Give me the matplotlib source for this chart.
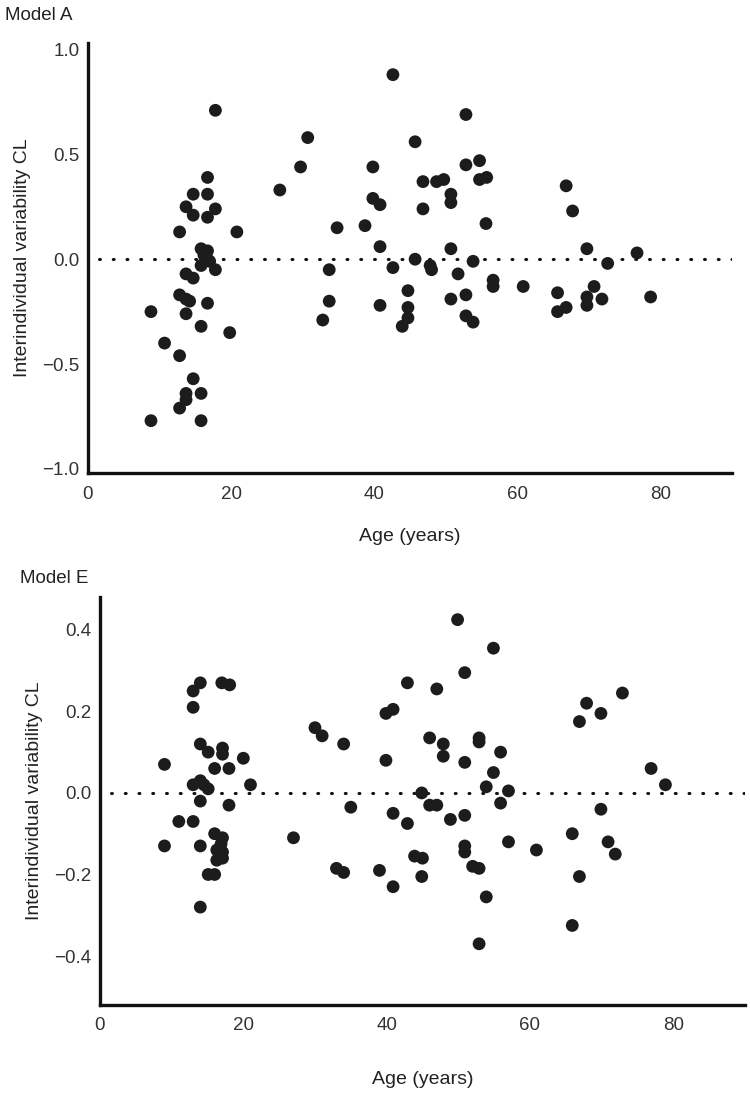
import numpy as np
import matplotlib.pyplot as plt

plt.rcParams['font.family'] = ['Liberation Sans', 'DejaVu Sans']

# Model A: age (years) and interindividual variability CL
age_a = [8.8, 8.8, 10.7, 12.8, 12.8, 12.8, 12.8, 13.7, 13.7, 13.7, 13.7, 13.7, 13.7,
         14.2, 14.7, 14.7, 14.7, 14.7, 15.8, 15.8, 15.8, 15.8, 15.8, 16.2, 16.7, 16.7,
         16.7, 16.7, 16.7, 16.7, 17.0, 17.8, 17.8, 17.8, 19.8, 20.8,
         26.8, 29.7, 30.7, 34.8, 33.7, 33.7, 32.8, 39.8, 39.8, 40.8, 38.7, 40.8, 40.8,
         42.6, 42.6, 44.7, 44.7, 44.7, 43.9, 45.7, 45.7, 46.8, 46.8, 47.8, 48.0, 48.7,
         49.7, 50.7, 50.7, 50.7, 51.7, 50.7, 52.8, 52.8, 52.8, 52.8, 53.8, 53.8, 54.7,
         54.7, 55.7, 55.6, 56.6, 56.6,
         60.8, 65.6, 65.6, 66.8, 66.8, 67.7, 69.7, 69.7, 69.7, 70.7, 71.8, 72.6, 76.7, 78.6]
cl_a = [-0.25, -0.77, -0.40, -0.46, 0.13, -0.71, -0.17, 0.25, -0.07, -0.19, -0.26, -0.64, -0.67,
        -0.20, 0.31, 0.21, -0.09, -0.57, 0.05, -0.03, -0.32, -0.64, -0.77, 0.02, 0.39, 0.31,
        0.20, 0.04, 0.00, -0.21, -0.01, 0.71, 0.24, -0.05, -0.35, 0.13,
        0.33, 0.44, 0.58, 0.15, -0.05, -0.20, -0.29, 0.44, 0.29, 0.26, 0.16, 0.06, -0.22,
        0.88, -0.04, -0.15, -0.23, -0.28, -0.32, 0.56, 0.00, 0.37, 0.24, -0.03, -0.05, 0.37,
        0.38, 0.31, 0.27, 0.05, -0.07, -0.19, 0.69, 0.45, -0.17, -0.27, -0.30, -0.01, 0.47,
        0.38, 0.39, 0.17, -0.10, -0.13,
        -0.13, -0.16, -0.25, -0.23, 0.35, 0.23, 0.05, -0.18, -0.22, -0.13, -0.19, -0.02, 0.03, -0.18]

# Model E
age_e = [9.0, 9.0, 11.0, 13.0, 13.0, 13.0, 14.0, 14.0, 15.1, 14.0, 14.0, 14.0, 13.0, 14.0,
         15.1, 14.5, 16.0, 17.1, 17.1, 18.0, 18.0, 17.0, 18.1, 20.0, 21.0, 15.1, 16.0, 16.0,
         17.1, 16.3, 17.1, 16.3, 17.1, 16.9,
         27.0, 30.0, 31.0, 34.0, 35.0, 33.0, 34.0, 39.0, 39.9, 39.9, 40.9, 40.9, 40.9, 42.9,
         42.9, 43.9, 45.0, 44.9, 44.9, 46.0, 46.0, 47.0, 47.0, 47.9, 47.9, 48.9, 49.9, 50.9,
         50.9, 50.9, 50.9, 50.9, 52.0, 52.9, 52.9, 52.9, 52.9, 53.9, 53.9, 54.9, 55.9, 54.9,
         57.0, 55.9, 57.0, 60.9, 65.9, 66.9, 65.9, 66.9, 67.9, 69.9, 69.9, 70.9, 71.9, 72.9,
         76.9, 78.9]
cl_e = [0.07, -0.13, -0.07, -0.07, 0.21, 0.25, 0.27, 0.12, 0.10, -0.28, -0.13, -0.02, 0.02, 0.03,
        0.01, 0.02, 0.06, 0.11, 0.095, 0.06, -0.03, 0.27, 0.265, 0.085, 0.02, -0.20, -0.20, -0.10,
        -0.11, -0.14, -0.145, -0.165, -0.16, -0.125,
        -0.11, 0.16, 0.14, 0.12, -0.035, -0.185, -0.195, -0.19, 0.08, 0.195, 0.205, -0.05, -0.23, 0.27,
        -0.075, -0.155, -0.16, -0.205, 0.0, 0.135, -0.03, -0.03, 0.255, 0.12, 0.09, -0.065, 0.425, 0.295,
        0.075, -0.055, -0.13, -0.145, -0.18, -0.185, -0.37, 0.135, 0.125, 0.015, -0.255, 0.355, 0.10, 0.05,
        0.005, -0.025, -0.12, -0.14, -0.10, -0.205, -0.325, 0.175, 0.22, 0.195, -0.04, -0.12, -0.15, 0.245,
        0.06, 0.02]

fig = plt.figure(figsize=(7.5, 11.08), dpi=100)
ax1 = fig.add_axes([0.1173, 0.573, 0.859, 0.388])
ax2 = fig.add_axes([0.1333, 0.093, 0.860, 0.368])

panels = [
    (ax1, age_a, cl_a, (-1.02, 1.03), [-1.0, -0.5, 0.0, 0.5, 1.0], 18),
    (ax2, age_e, cl_e, (-0.52, 0.48), [-0.4, -0.2, 0.0, 0.2, 0.4], 26),
]

for ax, x, y, ylim, yticks, xlpad in panels:
    ax.plot([1.5, 90], [0, 0], color='#111111', lw=2.2,
            linestyle=(0, (0.3, 4.2)), dash_capstyle='round', zorder=1)
    ax.scatter(x, y, s=85, color='#1c1c1c', edgecolors='none', zorder=3)
    ax.set_xlim(0, 90)
    ax.set_ylim(*ylim)
    ax.set_xticks([0, 20, 40, 60, 80])
    ax.set_yticks(yticks)
    ax.set_yticklabels(['\u2212' + f'{abs(v):.1f}' if v < 0 else f'{v:.1f}' for v in yticks])
    ax.tick_params(length=0, labelsize=13.5, labelcolor='#333333', pad=6)
    ax.tick_params(axis='x', pad=9)
    for s in ['top', 'right']:
        ax.spines[s].set_visible(False)
    for s in ['left', 'bottom']:
        ax.spines[s].set_linewidth(2.4)
        ax.spines[s].set_color('#111111')
    ax.set_xlabel('Age (years)', fontsize=14, color='#222222', labelpad=xlpad)
    ax.set_ylabel('Interindividual variability CL', fontsize=14, color='#222222', labelpad=8)

fig.text(0.007, 0.986, 'Model A', fontsize=13.5, color='#222222', va='center')
fig.text(0.027, 0.478, 'Model E', fontsize=13.5, color='#222222', va='center')

fig.savefig('out.png', dpi=100)
